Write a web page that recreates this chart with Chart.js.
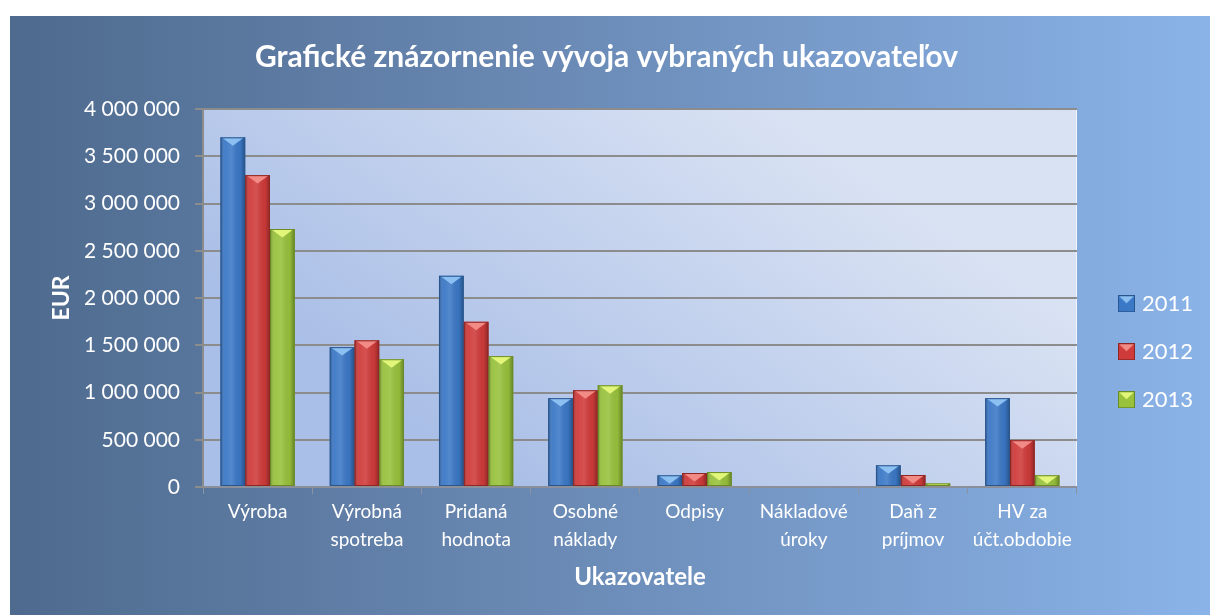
<!DOCTYPE html>
<html>
<head>
<meta charset="utf-8">
<title>Grafické znázornenie vývoja vybraných ukazovateľov</title>
<script src="https://cdn.jsdelivr.net/npm/chart.js@4/dist/chart.umd.min.js"></script>
<style>
    html, body { margin: 0; padding: 0; background: #fff; }
    #frame {
        position: absolute;
        left: 10px; top: 16px;
        width: 1200px; height: 599px;
        background: linear-gradient(to right, #4e6a8e 0%, #6786b0 40%, #8ab3e8 100%);
    }
</style>
</head>
<body>
<div id="frame"><canvas id="chart"></canvas></div>
<script>
// --- data ---
const categories = [
    ['Výroba'],
    ['Výrobná', 'spotreba'],
    ['Pridaná', 'hodnota'],
    ['Osobné', 'náklady'],
    ['Odpisy'],
    ['Nákladové', 'úroky'],
    ['Daň z', 'príjmov'],
    ['HV za', 'účt.obdobie']
];
const years = ['2011', '2012', '2013'];
const values2011 = [3700000, 1480000, 2235000, 940000, 124000, 0, 230000, 940000];
const values2012 = [3300000, 1552000, 1748000, 1024000, 148000, 0, 127000, 495000];
const values2013 = [2730000, 1352000, 1385000, 1076000, 158000, 0, 38000, 124000];
const yTicks = [0, 500000, 1000000, 1500000, 2000000, 2500000, 3000000, 3500000, 4000000];

// colours per series: body, dark edge, light bevel
const palette = [
    { body: '#3b78c6', edge: '#2a568f', top: '#8cc0f2' },
    { body: '#cf3b3a', edge: '#8f2624', top: '#f28a86' },
    { body: '#98c13c', edge: '#6a8a26', top: '#e2f77a' }
];

const FONT = 'Lato, "Open Sans", sans-serif';
Chart.defaults.font.family = FONT;
Chart.defaults.color = '#ffffff';

function spaced(v) {
    return String(v).replace(/\B(?=(\d{3})+(?!\d))/g, ' ');
}

// small bevelled square used as legend marker (icon sits on the right part of the image)
function legendIcon(p) {
    const c = document.createElement('canvas');
    c.width = 36; c.height = 17;
    const g = c.getContext('2d');
    const l = 19, w = 17;
    g.fillStyle = p.body;
    g.fillRect(l, 0, w, 17);
    g.fillStyle = p.top;
    g.beginPath();
    g.moveTo(l, 0); g.lineTo(l + w, 0); g.lineTo(l + w / 2, 8); g.closePath();
    g.fill();
    g.strokeStyle = p.edge;
    g.strokeRect(l + 0.5, 0.5, w - 1, 16);
    return c;
}
const icons = palette.map(legendIcon);

// plot area background
const plotBackground = {
    id: 'plotBackground',
    beforeDraw(chart) {
        const { ctx, chartArea: a } = chart;
        const w = a.right - a.left;
        const g = ctx.createLinearGradient(a.left + w * 0.35, a.bottom, a.left + w * 0.65, a.top);
        g.addColorStop(0, '#aabfe7');
        g.addColorStop(1, '#d9e2f3');
        ctx.save();
        ctx.fillStyle = g;
        ctx.fillRect(a.left, a.top, w, a.bottom - a.top);
        ctx.strokeStyle = 'rgba(255,255,255,0.7)';
        ctx.lineWidth = 1;
        ctx.beginPath();
        ctx.moveTo(a.right - 0.5, a.top); ctx.lineTo(a.right - 0.5, a.bottom);
        ctx.stroke();
        ctx.restore();
    }
};

// shading and top chevron on each bar
const barBevel = {
    id: 'barBevel',
    afterDatasetsDraw(chart) {
        const ctx = chart.ctx;
        chart.data.datasets.forEach((ds, i) => {
            const meta = chart.getDatasetMeta(i);
            const p = palette[i];
            meta.data.forEach(bar => {
                const { x, y, base, width } = bar.getProps(['x', 'y', 'base', 'width'], true);
                const l = x - width / 2, r = x + width / 2;
                const h = base - y;
                if (h < 1) return;
                ctx.save();
                ctx.beginPath();
                ctx.rect(l, y, width, h);
                ctx.clip();
                const g = ctx.createLinearGradient(l, 0, r, 0);
                g.addColorStop(0, 'rgba(0,0,0,0.30)');
                g.addColorStop(0.18, 'rgba(255,255,255,0.05)');
                g.addColorStop(0.45, 'rgba(255,255,255,0.12)');
                g.addColorStop(0.8, 'rgba(0,0,0,0.04)');
                g.addColorStop(1, 'rgba(0,0,0,0.32)');
                ctx.fillStyle = g;
                ctx.fillRect(l, y, width, h);
                const d = Math.min(width * 0.34, 9);
                ctx.fillStyle = p.top;
                ctx.beginPath();
                ctx.moveTo(l + 1, y); ctx.lineTo(r - 1, y); ctx.lineTo(x, y + d); ctx.closePath();
                ctx.fill();
                ctx.restore();
                ctx.strokeStyle = p.edge;
                ctx.lineWidth = 1;
                ctx.strokeRect(l + 0.5, y + 0.5, width - 1, h - 1);
            });
        });
    }
};

const ctx = document.getElementById('chart').getContext('2d');
new Chart(ctx, {
    type: 'bar',
    data: {
        labels: categories,
        datasets: [
            { label: years[0], data: values2011 },
            { label: years[1], data: values2012 },
            { label: years[2], data: values2013 }
        ].map((d, i) => Object.assign(d, {
            backgroundColor: palette[i].body,
            borderWidth: 0,
            categoryPercentage: 0.68,
            barPercentage: 1.0,
            pointStyle: icons[i]
        }))
    },
    options: {
        responsive: true,
        maintainAspectRatio: false,
        animation: false,
        layout: { padding: { left: 0, right: 7, top: 0, bottom: 0 } },
        plugins: {
            title: {
                display: true,
                text: 'Grafické znázornenie vývoja vybraných ukazovateľov',
                color: '#ffffff',
                font: { size: 30, weight: 'bold' },
                padding: { top: 23, bottom: 34 }
            },
            legend: {
                position: 'right',
                // empty title only pushes the entries down
                title: { display: true, text: '', padding: { top: 58, bottom: 0 } },
                labels: {
                    color: '#ffffff',
                    font: { size: 22 },
                    usePointStyle: true,
                    pointStyleWidth: 28,
                    boxHeight: 17,
                    padding: 26
                }
            },
            tooltip: { enabled: false }
        },
        scales: {
            x: {
                afterFit(scale) { scale.height = 128; },
                grid: {
                    drawOnChartArea: false,
                    color: '#8a93a3',
                    tickLength: 7
                },
                border: { color: '#8a8f99', width: 2 },
                ticks: {
                    color: '#ffffff',
                    font: { size: 19, lineHeight: 1.47 },
                    maxRotation: 0,
                    autoSkip: false,
                    padding: 4
                },
                title: {
                    display: true,
                    text: 'Ukazovatele',
                    color: '#ffffff',
                    font: { size: 24, weight: 'bold' },
                    padding: { top: 0, bottom: 23 }
                }
            },
            y: {
                min: 0,
                max: 4000000,
                afterFit(scale) { scale.width = 193; },
                afterBuildTicks(scale) { scale.ticks = yTicks.map(v => ({ value: v })); },
                grid: {
                    color: '#8c8c8c',
                    lineWidth: 2,
                    tickLength: 8
                },
                border: { color: '#8c8c8c', width: 2 },
                ticks: {
                    color: '#ffffff',
                    font: { size: 21 },
                    padding: 15,
                    callback: v => spaced(v)
                },
                title: {
                    display: true,
                    text: 'EUR',
                    color: '#ffffff',
                    font: { size: 23, weight: 'bold' },
                    padding: { top: 38, bottom: 0 }
                }
            }
        }
    },
    plugins: [plotBackground, barBevel]
});
</script>
</body>
</html>
